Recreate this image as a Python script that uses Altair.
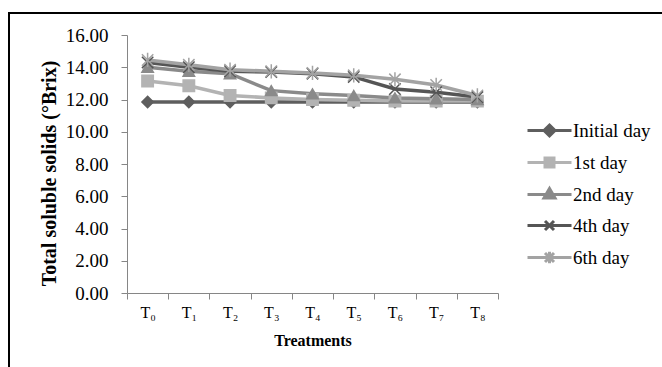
import altair as alt
import pandas as pd

# Treatments on the category axis and the five sampling days
treatments = ["T₀", "T₁", "T₂", "T₃", "T₄", "T₅", "T₆", "T₇", "T₈"]
series_names = ["Initial day", "1st day", "2nd day", "4th day", "6th day"]

# Total soluble solids (°Brix) per treatment
initial_day = [11.85, 11.85, 11.85, 11.85, 11.85, 11.85, 11.85, 11.85, 11.85]
day_1 = [13.15, 12.85, 12.25, 12.10, 12.00, 11.95, 11.90, 11.90, 11.90]
day_2 = [14.00, 13.75, 13.60, 12.55, 12.35, 12.25, 12.10, 12.05, 12.00]
day_4 = [14.30, 14.00, 13.75, 13.70, 13.60, 13.40, 12.65, 12.45, 12.15]
day_6 = [14.45, 14.15, 13.85, 13.75, 13.65, 13.50, 13.25, 12.90, 12.25]

y_ticks = [0, 2, 4, 6, 8, 10, 12, 14, 16]

series_colors = ["#5e5e5e", "#b3b3b3", "#8a8a8a", "#555555", "#a3a3a3"]

# marker glyphs: diamond, square, triangle, x-cross, asterisk
X_PATH = "M-1,-1L1,1M-1,1L1,-1"
STAR_PATH = "M-1,-1L1,1M-1,1L1,-1M0,-1.25V1.25"
marker_shapes = ["diamond", "square", "triangle-up", X_PATH, STAR_PATH]

# legend glyphs: a line segment with the series marker in the middle
legend_paths = [
    "M-2.2,0H2.2M0,-0.55L0.55,0L0,0.55L-0.55,0Z",
    "M-2.2,0H2.2M-0.45,-0.45H0.45V0.45H-0.45Z",
    "M-2.2,0H2.2M0,-0.6L0.55,0.35L-0.55,0.35Z",
    "M-2.2,0H2.2M-0.45,-0.45L0.45,0.45M-0.45,0.45L0.45,-0.45",
    "M-2.2,0H2.2M-0.45,-0.45L0.45,0.45M-0.45,0.45L0.45,-0.45M0,-0.58V0.58",
]

rows = []
for name, vals in zip(series_names, [initial_day, day_1, day_2, day_4, day_6]):
    for t, v in zip(treatments, vals):
        rows.append({"Treatment": t, "Series": name, "TSS": v})
df = pd.DataFrame(rows)

FONT = "Liberation Serif"
AXIS_GRAY = "#868686"

color_scale = alt.Scale(domain=series_names, range=series_colors)

legend = alt.Legend(
    title=None,
    orient="none",
    legendX=411,
    legendY=84,
    labelFont=FONT,
    labelFontSize=19,
    labelColor="black",
    labelOffset=12,
    symbolSize=400,
    symbolStrokeWidth=3,
    symbolOpacity=1,
    rowPadding=9,
)

x_enc = alt.X(
    "Treatment:N",
    sort=treatments,
    scale=alt.Scale(type="band", paddingInner=0, paddingOuter=0),
    bandPosition=0.5,
    axis=alt.Axis(
        title="Treatments",
        titleFont=FONT,
        titleFontSize=16,
        titleFontWeight="bold",
        titleColor="black",
        titlePadding=12,
        labelFont=FONT,
        labelFontSize=16,
        labelColor="black",
        labelAngle=0,
        labelPadding=5,
        tickBand="extent",
        tickSize=6,
        tickColor=AXIS_GRAY,
        domainColor=AXIS_GRAY,
    ),
)
y_enc = alt.Y(
    "TSS:Q",
    scale=alt.Scale(domain=[0, 16], nice=False, zero=True),
    axis=alt.Axis(
        title="Total soluble solids (°Brix)",
        titleFont=FONT,
        titleFontSize=20,
        titleFontWeight="bold",
        titleColor="black",
        titlePadding=6,
        titleY=138,
        values=y_ticks,
        format=".2f",
        labelFont=FONT,
        labelFontSize=19,
        labelColor="black",
        labelPadding=13,
        tickSize=6,
        tickColor=AXIS_GRAY,
        domainColor=AXIS_GRAY,
        grid=False,
    ),
)

lines = alt.Chart(df).mark_line(strokeWidth=3.5).encode(
    x=x_enc,
    y=y_enc,
    stroke=alt.Stroke("Series:N", scale=color_scale, legend=None),
)

markers = alt.Chart(df).mark_point(filled=True, opacity=1, size=130, strokeWidth=1.5).encode(
    x=x_enc,
    y=y_enc,
    shape=alt.Shape("Series:N", scale=alt.Scale(domain=series_names, range=marker_shapes), legend=None),
    fill=alt.Fill("Series:N", scale=color_scale, legend=None),
    stroke=alt.Stroke("Series:N", scale=color_scale, legend=None),
)

# legend-only layer: no rows drawn, scales carry the series domain
legend_layer = alt.Chart(df).transform_filter("false").mark_point(filled=True, opacity=1).encode(
    x=x_enc,
    y=y_enc,
    shape=alt.Shape("Series:N", scale=alt.Scale(domain=series_names, range=legend_paths), legend=legend),
    fill=alt.Fill("Series:N", scale=color_scale, legend=legend),
    stroke=alt.Stroke("Series:N", scale=color_scale, legend=legend),
)

# outer chart frame
frame = alt.Chart(pd.DataFrame({"f": [0]})).mark_rect(
    fill="transparent", stroke="black", strokeWidth=2
).encode(
    x=alt.value(-118), x2=alt.value(700), y=alt.value(-22), y2=alt.value(420)
)

chart = (
    alt.layer(frame, lines, markers, legend_layer)
    .resolve_scale(shape="independent", fill="independent", stroke="independent")
    .properties(
        width=371,
        height=258,
        autosize=alt.AutoSizeParams(type="none"),
        padding={"left": 127, "top": 35, "right": 164, "bottom": 74},
        background="white",
    )
    .configure(font=FONT)
    .configure_view(stroke=None)
)

chart.save("out.html", embed_options={"renderer": "svg", "actions": False})
